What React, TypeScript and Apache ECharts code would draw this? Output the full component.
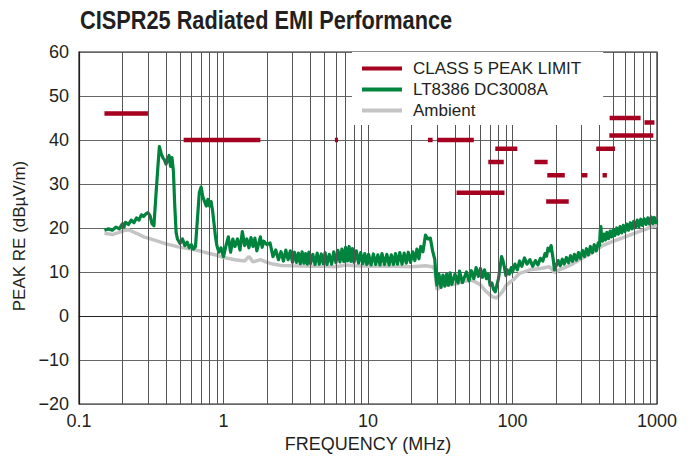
import React, { useEffect, useRef } from "react";
import * as echarts from "echarts";

const titleText = "CISPR25 Radiated EMI Performance";
const xAxisName = "FREQUENCY (MHz)";
const yAxisName = "PEAK RE (dBµV/m)";
const seriesNames = ["CLASS 5 PEAK LIMIT", "LT8386 DC3008A", "Ambient"];

// CLASS 5 peak limit segments: [start MHz, end MHz, dBµV/m]
const limitStart = [0.15, 0.53, 5.9, 26, 30, 41, 68, 76, 142, 174, 171, 300, 380, 420, 470, 468, 820];
const limitEnd = [0.3, 1.8, 6.2, 28, 54, 88, 87, 108, 175, 230, 245, 330, 512, 450, 770, 944, 960];
const limitLevel = [46, 40, 40, 40, 40, 28, 35, 38, 35, 32, 26, 32, 38, 32, 45, 41, 44];

// LT8386 DC3008A measurement, [MHz, dBµV/m]
const greenLF = [
  [0.15, 19.5], [0.16, 19.8], [0.17, 19.5], [0.18, 20.2], [0.19, 19.8], [0.2, 21], [0.205, 20.2], [0.21, 21.3],
  [0.22, 20.8], [0.23, 21.8], [0.24, 21.2], [0.25, 22.3], [0.26, 21.8], [0.27, 23], [0.28, 22.6], [0.29, 23.2],
  [0.3, 23.5], [0.31, 22.8], [0.32, 21], [0.33, 20.5], [0.34, 27], [0.35, 33], [0.36, 38.5], [0.37, 37],
  [0.38, 36], [0.39, 35.5], [0.4, 34.5], [0.41, 35.5], [0.42, 36.5], [0.43, 34], [0.44, 36], [0.45, 33],
  [0.46, 25], [0.47, 19], [0.48, 17.5], [0.5, 16.5], [0.52, 17.5], [0.54, 16], [0.56, 16.8], [0.58, 15.5],
  [0.6, 16.2], [0.62, 15.2], [0.64, 15.8], [0.66, 22], [0.68, 28], [0.7, 29.3], [0.72, 27], [0.74, 26],
  [0.76, 25], [0.78, 26.5], [0.8, 25], [0.82, 26], [0.84, 24], [0.86, 21], [0.88, 18], [0.9, 16],
  [0.93, 14.5], [0.96, 15.5], [1.0, 13.5], [1.04, 16], [1.08, 18], [1.12, 14.5], [1.16, 17.5], [1.2, 15.8],
  [1.25, 17.5], [1.3, 15], [1.35, 19.2], [1.4, 16], [1.45, 17.5], [1.5, 15.5], [1.55, 17.8], [1.6, 15.8],
  [1.65, 17.7], [1.7, 14.8], [1.8, 18], [1.85, 15.6], [1.9, 17], [2.0, 16.2], [2.1, 16.6], [2.2, 13.5],
  [2.3, 15], [2.4, 12.8], [2.5, 14.6], [2.6, 12.5], [2.7, 15], [2.8, 12.8], [2.9, 14.8],
];
const greenHF = [
  [3.0, 12.2], [3.1, 14.5], [3.2, 12.2], [3.3, 14.3], [3.4, 11.9], [3.5, 14.6], [3.6, 12], [3.7, 14.2],
  [3.8, 11.8], [3.9, 14.5], [4.0, 11.9], [4.15, 14], [4.3, 11.7], [4.45, 14.3], [4.6, 11.8], [4.75, 14.1],
  [4.9, 11.9], [5.05, 14.4], [5.2, 11.7], [5.4, 14], [5.6, 11.8], [5.8, 14.6], [6.0, 12.1], [6.2, 14.9],
  [6.4, 12.3], [6.6, 15.2], [6.8, 12.4], [7.0, 15.6], [7.2, 12.5], [7.4, 15.8], [7.6, 12.4], [7.8, 15.3],
  [8.0, 12.2], [8.3, 14.8], [8.6, 12], [8.9, 14.4], [9.2, 11.9], [9.5, 14.2], [9.8, 11.7], [10.1, 14],
  [10.5, 11.6], [10.9, 14.1], [11.3, 11.7], [11.7, 13.9], [12.1, 11.6], [12.5, 14.2], [13, 11.7], [13.5, 14],
  [14, 11.6], [14.5, 13.9], [15, 11.7], [15.5, 14.2], [16, 11.8], [16.6, 14.4], [17.2, 11.8], [17.8, 14.3],
  [18.4, 12], [19, 14.5], [19.7, 12.2], [20.4, 14.6], [21.1, 12.6], [21.8, 15.2], [22.5, 13], [23.2, 15.8],
  [24, 14.6], [25, 18.4], [26, 17.5], [27, 17.7], [28, 14.8], [29, 12.8], [29.5, 9],
];
const greenVHF = [
  [30, 7], [31, 9.5], [32, 6.5], [33, 9.3], [34, 6.8], [35, 9.5], [36, 7], [37, 9.8],
  [38, 7.2], [40, 9.5], [42, 7.5], [43, 10.2], [45, 7.6], [48, 10], [50, 8], [52, 10.3],
  [54, 8.5], [56, 11], [58, 9], [60, 10.8], [62, 8.8], [64, 10.5], [66, 8.5], [68, 9.5],
  [70, 7], [72, 7.5], [74, 6], [76, 5.5], [78, 7], [80, 8.5], [82, 11], [84, 13.5],
  [86, 12.5], [88, 11], [90, 9.2], [92, 10.5], [95, 9.5], [98, 11], [100, 10], [104, 11.8],
  [108, 10.5], [112, 12.5], [116, 11.3], [121, 13.2], [126, 11.8], [132, 12.8], [138, 11.3], [144, 12.6],
  [150, 11.6], [156, 13.1], [162, 12.5], [168, 14.2], [172, 13.6], [176, 15.4], [180, 14.8], [185, 16],
  [189, 14], [192, 12.5], [195, 10.5], [198, 11],
];
const greenUHF = [
  [200, 11.3], [207, 12.6], [214, 11.4], [221, 12.9], [228, 11.8], [236, 13.3], [244, 12.1], [252, 13.7],
  [260, 12.4], [268, 14], [277, 12.7], [286, 14.4], [295, 13.1], [305, 14.9], [315, 13.5], [325, 15.3],
  [335, 13.9], [346, 15.8], [357, 14.4], [368, 16.2], [380, 14.8], [392, 16.6], [400, 16], [405, 19.5],
  [409, 20.3], [413, 18], [420, 17], [430, 18.6], [440, 17.3], [450, 19], [462, 17.6], [474, 19.3],
  [486, 18], [498, 19.6], [512, 18.3], [526, 20], [540, 18.6], [555, 20.3], [570, 18.9], [585, 20.6],
  [600, 19.2], [618, 20.9], [636, 19.5], [654, 21.2], [672, 19.8], [690, 21.5], [710, 20.1], [730, 21.8],
  [750, 20.3], [772, 22], [794, 20.6], [816, 22.1], [840, 20.8], [864, 22.3], [888, 20.9], [912, 22.5],
  [936, 21], [960, 22.4], [980, 21.2], [1000, 21.8],
];

// Ambient, [MHz, dBµV/m]
const ambient = [
  [0.15, 18.8], [0.17, 18.5], [0.19, 19], [0.21, 19.5], [0.22, 19.6], [0.25, 18.8], [0.28, 18], [0.3, 17.7],
  [0.35, 17], [0.4, 16.4], [0.45, 16], [0.5, 15.6], [0.6, 15.2], [0.7, 14.7], [0.8, 14.2], [0.9, 13.8],
  [1.0, 13.3], [1.2, 12.8], [1.4, 12.5], [1.5, 13.5], [1.6, 12.3], [1.8, 12.8], [2.0, 12.2], [2.2, 11.8],
  [2.5, 11.5], [3, 11.4], [4, 11.3], [5, 11.3], [6, 11.2], [7, 11.6], [8, 11.4], [10, 11.3],
  [15, 11.3], [20, 11.2], [25, 11.4], [28, 11.2], [29, 10.5], [30, 6], [32, 6.8], [35, 7],
  [40, 7.2], [45, 7.8], [51, 8.2], [55, 7.8], [60, 7.1], [66, 5.5], [72, 4.4], [78, 4.1],
  [85, 5.5], [91, 7.1], [101, 8.2], [112, 9.7], [132, 10.5], [156, 10.8], [180, 11.2], [197, 9.8],
  [210, 10.5], [226, 10.9], [260, 11.8], [300, 13], [340, 14], [380, 15], [420, 16], [480, 16.8],
  [550, 17.5], [640, 18.3], [750, 19.2], [850, 19.8], [920, 20.3], [1000, 20.6],
];

const xTickLabels = ["0.1", "1", "10", "100", "1000"];
const minorGridFreqs = [
  0.2, 0.3, 0.4, 0.5, 0.6, 0.7, 0.8, 0.9,
  2, 3, 4, 5, 6, 7, 8, 9,
  20, 30, 40, 50, 60, 70, 80, 90,
  200, 300, 400, 500, 600, 700, 800, 900,
];

const FONT = "'Liberation Sans', Arial, sans-serif";
const INK = "#231f20";

export default function App() {
  const ref = useRef<HTMLDivElement>(null);
  useEffect(() => {
    if (!ref.current) return;
    const chart = echarts.init(ref.current, undefined, { renderer: "svg" });
    const limitSeries = limitStart.map((s, i) => ({
      name: seriesNames[0],
      type: "line",
      data: [
        [s, limitLevel[i]],
        [limitEnd[i], limitLevel[i]],
      ],
      symbol: "none",
      color: "#a5001f",
      lineStyle: { width: 4.5, color: "#a5001f", cap: "butt" },
      z: 5,
      silent: true,
    }));
    chart.setOption({
      animation: false,
      backgroundColor: "#fff",
      textStyle: { fontFamily: FONT },
      graphic: [
        {
          type: "text",
          x: 80,
          y: 8,
          scaleX: 0.87,
          style: {
            text: titleText,
            font: "bold 25px 'Liberation Sans', Arial, sans-serif",
            fill: INK,
            verticalAlign: "top",
            textVerticalAlign: "top",
          },
        },
      ],
      legend: {
        data: seriesNames,
        orient: "vertical",
        left: 352,
        top: 52,
        backgroundColor: "#fff",
        padding: [8, 22, 6, 10],
        itemGap: 4,
        itemWidth: 40,
        itemHeight: 4,
        icon: "rect",
        textStyle: { fontFamily: FONT, fontSize: 17, color: INK, padding: [0, 0, 0, 6] },
        z: 10,
      },
      grid: {
        left: 79,
        right: 34,
        top: 52,
        bottom: 56,
        show: true,
        borderColor: INK,
        borderWidth: 1.2,
        backgroundColor: "transparent",
      },
      xAxis: {
        type: "log",
        logBase: 10,
        min: 0.1,
        max: 1000,
        name: xAxisName,
        nameLocation: "middle",
        nameGap: 30,
        nameTextStyle: { fontFamily: FONT, fontSize: 18, color: INK },
        axisLine: { show: true, lineStyle: { color: INK, width: 1.2 } },
        axisTick: { show: false },
        axisLabel: {
          fontFamily: FONT,
          fontSize: 18,
          color: INK,
          margin: 8,
          formatter: (v: number) => {
            const r = Math.round(v * 10) / 10;
            const s = String(r);
            return xTickLabels.includes(s) ? s : "";
          },
        },
        splitLine: { show: true, lineStyle: { color: "#555", width: 1 } },
        minorTick: { show: false },
      },
      yAxis: {
        type: "value",
        min: -20,
        max: 60,
        interval: 10,
        name: yAxisName,
        nameLocation: "middle",
        nameGap: 48,
        nameTextStyle: { fontFamily: FONT, fontSize: 17, color: INK, padding: [0, 16, 0, 0] },
        axisLine: { show: true, lineStyle: { color: INK, width: 1.2 } },
        axisTick: { show: false },
        axisLabel: {
          fontFamily: FONT,
          fontSize: 18,
          color: INK,
          margin: 10,
          formatter: (v: number) => (v < 0 ? "\u2212" + Math.abs(v) : String(v)),
        },
        splitLine: { show: true, lineStyle: { color: "#666", width: 1 } },
      },
      series: [
        {
          name: "grid",
          type: "line",
          data: [],
          symbol: "none",
          silent: true,
          z: 1,
          markLine: {
            silent: true,
            symbol: ["none", "none"],
            label: { show: false },
            lineStyle: { color: "#555", width: 1, type: "solid" },
            data: minorGridFreqs.map((f) => ({ xAxis: f })),
          },
        },
        {
          name: seriesNames[2],
          type: "line",
          data: ambient,
          symbol: "none",
          color: "#c4c4c4",
          lineStyle: { width: 3.5, color: "#c4c4c4" },
          z: 2,
        },
        {
          name: seriesNames[1],
          type: "line",
          data: [...greenLF, ...greenHF, ...greenVHF, ...greenUHF],
          symbol: "none",
          color: "#00843d",
          lineStyle: { width: 3.2, color: "#00843d", join: "round" },
          z: 3,
        },
        ...limitSeries,
      ],
    });
    return () => chart.dispose();
  }, []);
  return <div ref={ref} style={{ width: 691, height: 460, position: "absolute", left: 0, top: 0 }} />;
}
